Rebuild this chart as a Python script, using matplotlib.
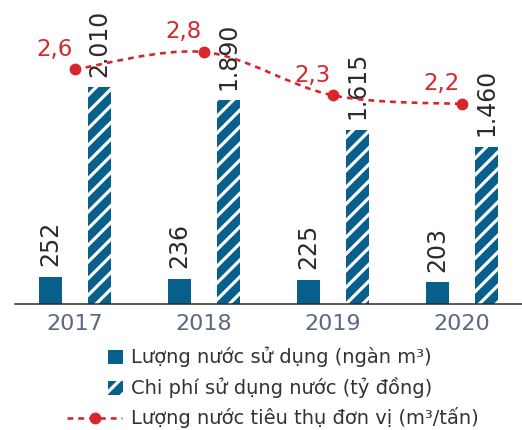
import matplotlib
matplotlib.use("Agg")
import matplotlib.pyplot as plt
import numpy as np
from matplotlib.patches import Rectangle, PathPatch
from matplotlib.path import Path
from matplotlib.lines import Line2D

# ---- data ----
years = ["2017", "2018", "2019", "2020"]
water_used = [252, 236, 225, 203]              # ngàn m3
water_cost = [2010, 1890, 1615, 1460]          # tỷ đồng
unit_consumption = [2.6, 2.8, 2.3, 2.2]        # m3/tấn

water_used_labels = ["252", "236", "225", "203"]
water_cost_labels = ["2.010", "1.890", "1.615", "1.460"]
unit_labels = ["2,6", "2,8", "2,3", "2,2"]

legend_labels = [
    "Lượng nước sử dụng (ngàn m³)",
    "Chi phí sử dụng nước (tỷ đồng)",
    "Lượng nước tiêu thụ đơn vị (m³/tấn)",
]

BLUE = "#075f8c"
RED = "#d8262e"
DARK = "#2b2b2b"
YEAR_COLOR = "#5a6785"

plt.rcParams["font.family"] = ["DejaVu Sans"]
plt.rcParams["hatch.linewidth"] = 2.3

W, H = 522, 430
fig = plt.figure(figsize=(W / 100, H / 100), dpi=100)

def fx(px):
    return px / W

def fy(py):
    return 1 - py / H

ax = fig.add_axes([fx(15), fy(304), fx(507), 304 / H])
ax2 = ax.twinx()

x = np.arange(len(years))
off = 0.19
bw = 0.18

ax.bar(x - off, water_used, width=bw, color=BLUE, linewidth=0, zorder=2)
ax.bar(x + off, water_cost, width=bw, color=BLUE, edgecolor="white",
       hatch="//", linewidth=0, zorder=2)

for xi, v, lab in zip(x - off, water_used, water_used_labels):
    ax.annotate(lab, (xi, v), xytext=(0, 7.5), textcoords="offset points",
                rotation=90, ha="center", va="bottom", fontsize=17, color=DARK)
for xi, v, lab in zip(x + off, water_cost, water_cost_labels):
    ax.annotate(lab, (xi, v), xytext=(0, 7.5), textcoords="offset points",
                rotation=90, ha="center", va="bottom", fontsize=17, color=DARK)

ax.set_xlim(-0.465, 3.465)
ax.set_ylim(0, 2820)
ax.set_xticks(x)
ax.set_xticklabels(years, fontsize=16, color=YEAR_COLOR)
ax.tick_params(axis="x", length=0, pad=7)
ax.set_yticks([])
for s in ["top", "right", "left"]:
    ax.spines[s].set_visible(False)
ax.spines["bottom"].set_color(DARK)
ax.spines["bottom"].set_linewidth(1.1)

# smooth dashed curve through the unit consumption points (Catmull-Rom -> Bezier)
pts = np.column_stack([x, unit_consumption]).astype(float)
verts = [tuple(pts[0])]
codes = [Path.MOVETO]
n = len(pts)
for i in range(n - 1):
    p0 = pts[i - 1] if i > 0 else pts[i]
    p1 = pts[i]
    p2 = pts[i + 1]
    p3 = pts[i + 2] if i + 2 < n else pts[i + 1]
    c1 = p1 + (p2 - p0) / 6.0
    c2 = p2 - (p3 - p1) / 6.0
    verts += [tuple(c1), tuple(c2), tuple(p2)]
    codes += [Path.CURVE4] * 3
curve = PathPatch(Path(verts, codes), fill=False, edgecolor=RED, lw=1.9,
                  linestyle=(0, (2.2, 1.9)), zorder=3)
ax2.add_patch(curve)
ax2.plot(x, unit_consumption, linestyle="none", marker="o", markersize=7.5,
         color=RED, zorder=4)
for xi, v, lab in zip(x, unit_consumption, unit_labels):
    ax2.annotate(lab, (xi, v), xytext=(-15, 14.5), textcoords="offset points",
                 ha="center", va="center", fontsize=16.5, color=RED)

ax2.set_ylim(-0.106, 3.40)
ax2.set_yticks([])
for s in ax2.spines.values():
    s.set_visible(False)

# legend drawn in figure pixel space
fig.patches.append(Rectangle((fx(108), fy(364)), fx(15), 14 / H,
                             transform=fig.transFigure, facecolor=BLUE,
                             linewidth=0))
fig.patches.append(Rectangle((fx(108), fy(395)), fx(15), 14 / H,
                             transform=fig.transFigure, facecolor=BLUE,
                             edgecolor="white", hatch="//", linewidth=0))
fig.lines.append(Line2D([fx(67), fx(122)], [fy(418), fy(418)],
                        transform=fig.transFigure, color=RED, lw=1.9,
                        linestyle=(0, (2.2, 1.9))))
fig.lines.append(Line2D([fx(95)], [fy(418)], transform=fig.transFigure,
                        color=RED, marker="o", markersize=7.5,
                        linestyle="none"))
for lab, py in zip(legend_labels, [357, 388, 418]):
    fig.text(fx(131), fy(py), lab, ha="left", va="center", fontsize=14,
             color="#333333")

fig.savefig("out.png", dpi=100)
